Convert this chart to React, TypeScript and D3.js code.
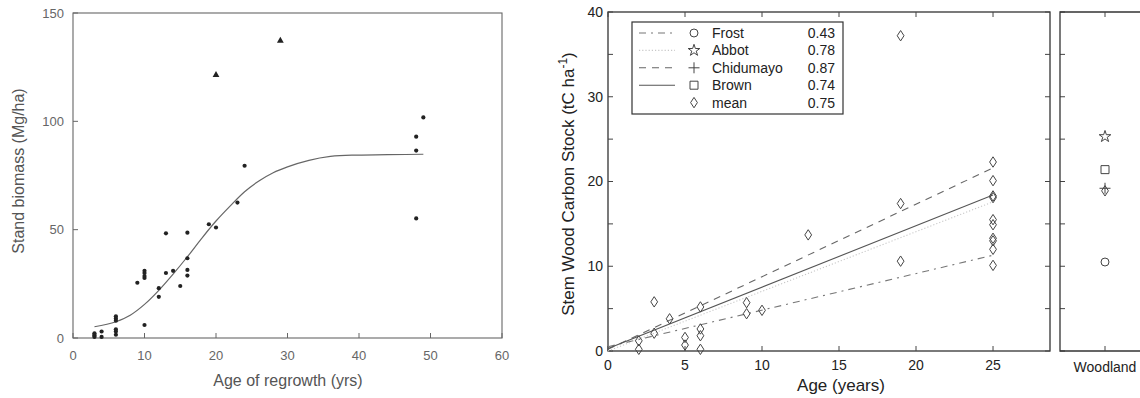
import React from "react";
import * as d3 from "d3";

// ---- Left panel: stand biomass vs. age of regrowth ----
const regrowthAge = [3, 3, 3, 3, 4, 4, 6, 6, 6, 6, 6, 6, 9, 10, 10, 10, 10, 10, 12, 12, 13, 13, 14, 15, 16, 16, 16, 16, 19, 20, 23, 24, 48, 48, 48, 49];
const standBiomass = [0.5, 1, 1.5, 2.2, 0.5, 3, 1.5, 3, 4, 8, 9, 10, 25.5, 6, 27.7, 28.6, 30, 31, 19, 23, 30, 48.3, 31, 24, 28.8, 31.4, 36.8, 48.6, 52.5, 51, 62.5, 79.5, 55.2, 86.5, 92.9, 101.8];
const outlierAge = [20, 29];
const outlierBiomass = [121.4, 137.2];
const fitAge = [3, 6, 8, 10, 12, 14, 16, 18, 20, 22, 24, 26, 28, 30, 33, 36, 39, 44, 49];
const fitBiomass = [5.2, 7.5, 10.5, 15.5, 22, 29.5, 37.5, 46, 54, 61, 67.5, 72.5, 76.3, 79, 82, 83.8, 84.4, 84.6, 84.8];
const leftXTicks = [0, 10, 20, 30, 40, 50, 60];
const leftYTicks = [0, 50, 100, 150];

// ---- Right panel: stem wood carbon stock vs. age ----
const meanAge = [2, 2, 3, 3, 4, 5, 5, 6, 6, 6, 6, 9, 9, 10, 13, 19, 19, 19, 25, 25, 25, 25, 25, 25, 25, 25, 25, 25];
const meanStock = [1.2, 0.2, 5.8, 2.1, 3.8, 1.6, 0.7, 5.2, 2.6, 1.8, 0.2, 5.7, 4.4, 4.8, 13.7, 37.2, 17.4, 10.6, 22.3, 20.1, 18.3, 18.1, 15.5, 14.9, 13.3, 13.0, 12.0, 10.1];
const fitLineAge = [0, 25];
const models = ["Frost", "Abbot", "Chidumayo", "Brown", "mean"];
const rSquared = [0.43, 0.78, 0.87, 0.74, 0.75];
const frostLine = [0.5, 11.3];
const abbotLine = [0, 17.6];
const chidumayoLine = [0.2, 21.6];
const brownLine = [0.3, 18.4];
const woodlandStock = [10.5, 25.3, 19.2, 21.4, 18.9];
const rightXTicks = [0, 5, 10, 15, 20, 25];
const rightYTicks = [0, 5, 10, 15, 20, 25, 30, 35, 40];
const rightYLabels = [0, 10, 20, 30, 40];
const woodlandCategories = ["Woodland"];

const FONT = "'Liberation Sans', Arial, Helvetica, sans-serif";

const lineStyles: { stroke: string; dash: string | undefined; width: number }[] = [
  { stroke: "#777", dash: "7,5,2,5", width: 1.1 },
  { stroke: "#c8c8c8", dash: "1.2,2", width: 1.1 },
  { stroke: "#666", dash: "7,6", width: 1.1 },
  { stroke: "#555", dash: undefined, width: 1.1 },
];

function markerPath(i: number): string {
  switch (i) {
    case 0:
      return d3.symbol(d3.symbolCircle, 50)()!;
    case 1:
      return d3.symbol(d3.symbolStar, 42)()!;
    case 2:
      return "M-5.5,0H5.5M0,-5.5V5.5";
    case 3:
      return d3.symbol(d3.symbolSquare, 64)()!;
    default:
      return "M0,-5.2L3.4,0L0,5.2L-3.4,0Z";
  }
}

export default function App() {
  // left scales
  const xL = d3.scaleLinear().domain([0, 60]).range([73, 502]);
  const yL = d3.scaleLinear().domain([0, 150]).range([338, 13]);
  const fitPath = d3
    .line<number>()
    .x((_, i) => xL(fitAge[i]))
    .y((d) => yL(d))
    .curve(d3.curveMonotoneX)(fitBiomass)!;
  const tri = d3.symbol(d3.symbolTriangle, 20)()!;

  // right scales
  const xR = d3.scaleLinear().domain([0, 28.7]).range([608, 1050]);
  const yR = d3.scaleLinear().domain([0, 40]).range([351, 12]);
  const xW = d3.scaleBand().domain(woodlandCategories).range([1060, 1150]);
  const wCenter = xW("Woodland")! + xW.bandwidth() / 2;
  const fitLines = [frostLine, abbotLine, chidumayoLine, brownLine];
  const seg = d3
    .line<number>()
    .x((_, i) => xR(fitLineAge[i]))
    .y((d) => yR(d));

  const legendX = 632;
  const legendY = 22;
  const rowH = 17.4;

  return (
    <svg
      width={1140}
      height={398}
      style={{ position: "absolute", left: 0, top: 0, background: "#fff" }}
      fontFamily={FONT}
    >
      {/* ===== Left panel ===== */}
      <g>
        <rect x={73} y={13} width={429} height={325} fill="none" stroke="#666" strokeWidth={1.1} />
        {leftYTicks.map((t) => (
          <g key={"ly" + t}>
            <line x1={73} x2={78} y1={yL(t)} y2={yL(t)} stroke="#666" />
            <text x={64} y={yL(t)} dy="0.35em" textAnchor="end" fontSize={13} fill="#666">
              {t}
            </text>
          </g>
        ))}
        {leftXTicks.map((t) => (
          <g key={"lx" + t}>
            <line x1={xL(t)} x2={xL(t)} y1={338} y2={333} stroke="#666" />
            <text x={xL(t)} y={355} dy="0.35em" textAnchor="middle" fontSize={13} fill="#666">
              {t}
            </text>
          </g>
        ))}
        <text x={288} y={386} textAnchor="middle" fontSize={16} fill="#555">
          Age of regrowth (yrs)
        </text>
        <text
          transform={`translate(24,171) rotate(-90)`}
          textAnchor="middle"
          fontSize={16}
          fill="#555"
        >
          Stand biomass (Mg/ha)
        </text>
        <path d={fitPath} fill="none" stroke="#666" strokeWidth={1.2} />
        {standBiomass.map((v, i) => (
          <circle key={"pt" + i} cx={xL(regrowthAge[i])} cy={yL(v)} r={2.1} fill="#222" />
        ))}
        {outlierBiomass.map((v, i) => (
          <path key={"tr" + i} d={tri} transform={`translate(${xL(outlierAge[i])},${yL(v)})`} fill="#222" />
        ))}
      </g>

      {/* ===== Right panel ===== */}
      <g>
        {/* main frame */}
        <rect x={608} y={12} width={442} height={339} fill="none" stroke="#333" strokeWidth={1.3} />
        {rightYTicks.map((t) => (
          <g key={"ry" + t}>
            <line x1={608} x2={613} y1={yR(t)} y2={yR(t)} stroke="#444" />
            <line x1={1050} x2={1045} y1={yR(t)} y2={yR(t)} stroke="#444" />
            <line x1={1060} x2={1065} y1={yR(t)} y2={yR(t)} stroke="#444" />
          </g>
        ))}
        {rightYLabels.map((t) => (
          <text key={"ryl" + t} x={603} y={yR(t)} dy="0.35em" textAnchor="end" fontSize={14} fill="#222">
            {t}
          </text>
        ))}
        {rightXTicks.map((t) => (
          <g key={"rx" + t}>
            <line x1={xR(t)} x2={xR(t)} y1={351} y2={346} stroke="#444" />
            <line x1={xR(t)} x2={xR(t)} y1={12} y2={17} stroke="#444" />
            <text x={xR(t)} y={365} dy="0.35em" textAnchor="middle" fontSize={14} fill="#222">
              {t}
            </text>
          </g>
        ))}
        <text x={841} y={391} textAnchor="middle" fontSize={17} fill="#222">
          Age (years)
        </text>
        <text transform={`translate(574,184) rotate(-90)`} textAnchor="middle" fontSize={17} fill="#222">
          Stem Wood Carbon Stock (tC ha
          <tspan dy={-7} fontSize={12}>
            -1
          </tspan>
          <tspan dy={7}>)</tspan>
        </text>

        {/* fitted lines */}
        {fitLines.map((vals, i) => (
          <path
            key={"fl" + i}
            d={seg(vals)!}
            fill="none"
            stroke={lineStyles[i].stroke}
            strokeWidth={lineStyles[i].width}
            strokeDasharray={lineStyles[i].dash}
          />
        ))}

        {/* mean observations */}
        {meanStock.map((v, i) => (
          <path
            key={"md" + i}
            d={markerPath(4)}
            transform={`translate(${xR(meanAge[i])},${yR(v)})`}
            fill="none"
            stroke="#444"
            strokeWidth={1}
          />
        ))}

        {/* legend */}
        <rect x={legendX} y={legendY} width={211} height={92} fill="#fff" stroke="#333" strokeWidth={1.2} />
        {models.map((m, i) => {
          const cy = legendY + 11 + i * rowH;
          return (
            <g key={"lg" + m}>
              {i < 4 && (
                <line
                  x1={639}
                  x2={675}
                  y1={cy}
                  y2={cy}
                  stroke={lineStyles[i].stroke}
                  strokeWidth={lineStyles[i].width}
                  strokeDasharray={lineStyles[i].dash}
                />
              )}
              <path
                d={markerPath(i)}
                transform={`translate(694,${cy})`}
                fill="none"
                stroke="#444"
                strokeWidth={1}
              />
              <text x={712} y={cy} dy="0.35em" fontSize={14} fill="#222">
                {m}
              </text>
              <text x={835} y={cy} dy="0.35em" textAnchor="end" fontSize={14} fill="#222">
                {rSquared[i].toFixed(2)}
              </text>
            </g>
          );
        })}

        {/* woodland panel */}
        <path d="M1150,12H1060V351H1150" fill="none" stroke="#333" strokeWidth={1.3} />
        <line x1={wCenter} x2={wCenter} y1={351} y2={346} stroke="#444" />
        <line x1={wCenter} x2={wCenter} y1={12} y2={17} stroke="#444" />
        <text x={wCenter} y={367} dy="0.35em" textAnchor="middle" fontSize={14} fill="#222">
          Woodland
        </text>
        {woodlandStock.map((v, i) => (
          <path
            key={"wd" + i}
            d={markerPath(i)}
            transform={`translate(${wCenter},${yR(v)})`}
            fill="none"
            stroke="#444"
            strokeWidth={1}
          />
        ))}
      </g>
    </svg>
  );
}
